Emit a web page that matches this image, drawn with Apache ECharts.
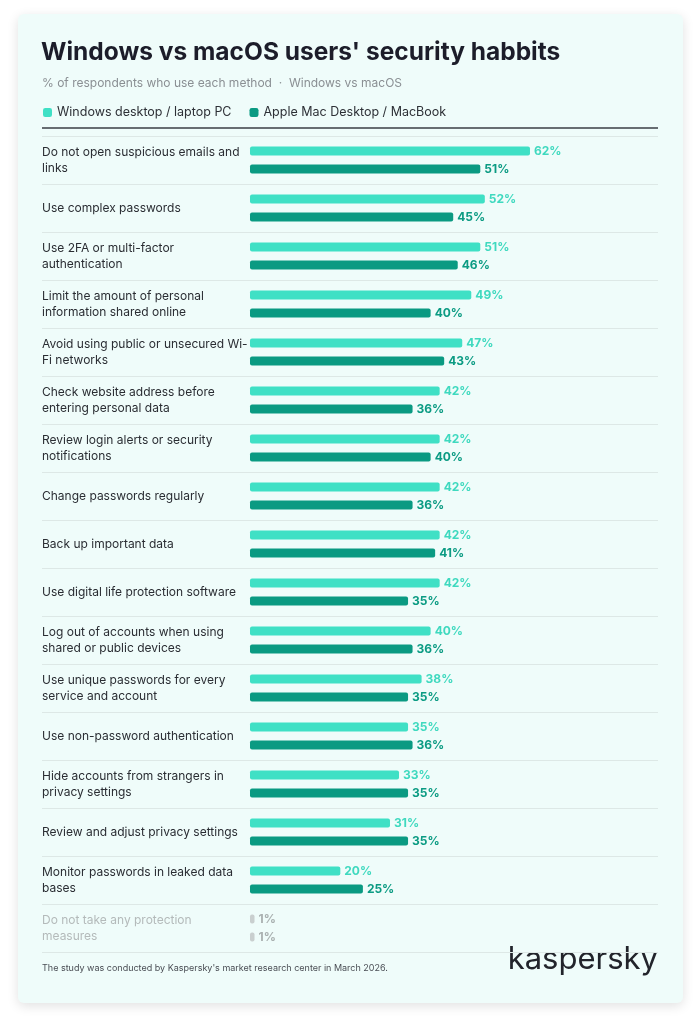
<!DOCTYPE html>
<html>
<head>
<meta charset="utf-8">
<script src="https://cdn.jsdelivr.net/npm/echarts@6/dist/echarts.min.js"></script>
<style>
  html, body { margin: 0; padding: 0; background: #ffffff; }
  #chart { width: 700px; height: 1022px; }
</style>
</head>
<body>
<div id="chart"></div>
<script>
var chart = echarts.init(document.getElementById('chart'));

// 问卷方法 + Windows / macOS 的百分比
var habits = [
  ['Do not open suspicious emails and\nlinks', 62, 51],
  ['Use complex passwords', 52, 45],
  ['Use 2FA or multi-factor\nauthentication', 51, 46],
  ['Limit the amount of personal\ninformation shared online', 49, 40],
  ['Avoid using public or unsecured Wi-\nFi networks', 47, 43],
  ['Check website address before\nentering personal data', 42, 36],
  ['Review login alerts or security\nnotifications', 42, 40],
  ['Change passwords regularly', 42, 36],
  ['Back up important data', 42, 41],
  ['Use digital life protection software', 42, 35],
  ['Log out of accounts when using\nshared or public devices', 40, 36],
  ['Use unique passwords for every\nservice and account', 38, 35],
  ['Use non-password authentication', 35, 36],
  ['Hide accounts from strangers in\nprivacy settings', 33, 35],
  ['Review and adjust privacy settings', 31, 35],
  ['Monitor passwords in leaked data\nbases', 20, 25],
  ['Do not take any protection\nmeasures', 1, 1]
];

var GREY = '#c9cfcf';
var last = habits.length - 1;

function seriesData(idx, color) {
  return habits.map(function (h, i) {
    var c = i === last ? GREY : color;
    return {
      value: h[idx],
      itemStyle: { color: c },
      label: { color: i === last ? '#a9b0b0' : (idx === 1 ? '#3fd9bf' : '#0b9b83') }
    };
  });
}

var option = {
  animation: false,
  textStyle: { fontFamily: 'Inter, "Noto Sans", sans-serif' },
  graphic: [
    { type: 'rect', shape: { x: 18, y: 14, width: 665, height: 989, r: 6 }, z: -10,
      style: { fill: '#effcfa', shadowBlur: 12, shadowColor: 'rgba(0,0,0,0.12)', shadowOffsetY: 3 } },
    { type: 'text', left: 41, top: 40,
      style: { text: "Windows vs macOS users' security habbits", fontSize: 24.5, fontWeight: 'bold', fill: '#1c1d2a', fontFamily: 'Inter, sans-serif' } },
    { type: 'text', left: 42, top: 77,
      style: { text: '% of respondents who use each method  ·  Windows vs macOS', fontSize: 12, fill: '#8a8f93', fontFamily: 'Inter, sans-serif' } },
    { type: 'line', shape: { x1: 42, y1: 128, x2: 658, y2: 128 }, style: { stroke: '#3a3e44', lineWidth: 1.5 } },
    { type: 'text', left: 42, top: 964,
      style: { text: "The study was conducted by Kaspersky's market research center in March 2026.", fontSize: 9, fill: '#4a4e55', fontFamily: 'Inter, sans-serif' } },
    { type: 'text', right: 42, top: 944,
      style: { text: 'kaspersky', fontSize: 31, fill: '#22242b', fontFamily: 'Inter, sans-serif' } }
  ],
  legend: {
    left: 38, top: 101,
    itemWidth: 9, itemHeight: 9, itemGap: 18,
    icon: 'roundRect',
    textStyle: { fontSize: 12.5, color: '#2d3036' },
    data: [
      { name: 'Windows desktop / laptop PC', itemStyle: { color: '#3fe0c5' } },
      { name: 'Apple Mac Desktop / MacBook', itemStyle: { color: '#0a9a82' } }
    ]
  },
  grid: { left: 42, right: 42, top: 136, bottom: 70 },
  xAxis: {
    type: 'value', min: -46.06, max: 90.35, show: false
  },
  yAxis: {
    type: 'category', inverse: true,
    data: habits.map(function (h) { return h[0]; }),
    axisLine: { show: false }, axisTick: { show: false },
    splitLine: { show: true, lineStyle: { color: '#dde8e6', width: 1 } },
    axisLabel: {
      inside: true, margin: 0, align: 'left', fontSize: 12, lineHeight: 16,
      color: function (v, i) { return i === last ? '#b4baba' : '#2a2d33'; }
    }
  },
  series: [
    {
      name: 'Windows desktop / laptop PC', type: 'bar',
      barWidth: 9, barGap: '100%',
      itemStyle: { color: '#3fe0c5', borderRadius: 2 },
      label: { show: true, position: 'right', distance: 4, formatter: '{c}%', fontSize: 12, fontWeight: 'bold' },
      data: seriesData(1, '#3fe0c5')
    },
    {
      name: 'Apple Mac Desktop / MacBook', type: 'bar',
      barWidth: 9,
      itemStyle: { color: '#0a9a82', borderRadius: 2 },
      label: { show: true, position: 'right', distance: 4, formatter: '{c}%', fontSize: 12, fontWeight: 'bold' },
      data: seriesData(2, '#0a9a82')
    }
  ]
};

chart.setOption(option);
</script>
</body>
</html>
